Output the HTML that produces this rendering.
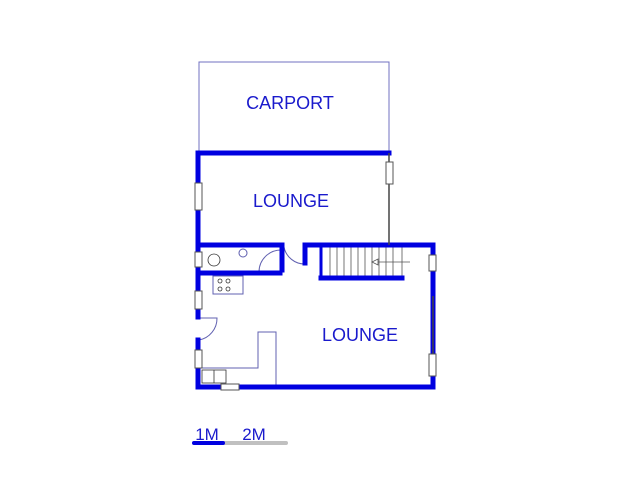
<!DOCTYPE html>
<html><head><style>body{margin:0;background:#fff}svg{display:block}</style></head><body>
<svg width="640" height="480" viewBox="0 0 640 480" xmlns="http://www.w3.org/2000/svg" font-family="Liberation Sans, sans-serif">
<rect width="640" height="480" fill="#fff"/>
<path d="M199 153 V62 H389 V153" fill="none" stroke="#7070c0" stroke-width="1"/>
<g fill="none" stroke="#6060b0" stroke-width="1">
<path d="M200 368 H258 V332 H276 V386"/>
<rect x="213" y="276" width="30" height="18"/>
<circle cx="243" cy="253" r="4"/>
<path d="M259 272 A22 22 0 0 1 281 250"/>
<path d="M284 247 A21 21 0 0 0 305 264"/>
<path d="M199 340 A22 22 0 0 0 217 318 H199"/>
</g>
<g fill="none" stroke="#333" stroke-width="0.8">
<circle cx="220" cy="281" r="2"/><circle cx="228" cy="281" r="2"/><circle cx="220" cy="289" r="2"/><circle cx="228" cy="289" r="2"/>
<circle cx="214" cy="260" r="6"/>
<rect x="202" y="370" width="24" height="13"/>
<line x1="214" y1="370" x2="214" y2="383"/>
</g>
<g stroke="#555" stroke-width="0.8">
<rect x="322" y="247" width="80" height="30" fill="none"/>
<path d="M330 247V277M337 247V277M344 247V277M351 247V277M358 247V277M365 247V277M372 247V277M379 247V277M386 247V277M393 247V277"/>
<path d="M372 262 H410"/>
<path d="M372 262 L378 259 V265 Z" fill="#fff"/>
</g>
<g stroke="#0000e0" stroke-width="5" fill="none" stroke-linecap="square">
<path d="M389 153 H198 V317"/>
<path d="M198 340 V387 H433 V245 H305 V263"/>
<path d="M198 245 H282 V270"/>
<path d="M198 273 H280"/>
<path d="M321 278 H402"/>
</g>
<line x1="321" y1="245" x2="321" y2="278" stroke="#0000e0" stroke-width="3"/>
<g stroke="#444" stroke-width="1.5">
<line x1="389" y1="153" x2="389" y2="245"/>
<line x1="433" y1="296" x2="433" y2="355"/>
</g>
<g fill="#fff" stroke="#555" stroke-width="1">
<rect x="195" y="183" width="7" height="27"/>
<rect x="386" y="162" width="7" height="22"/>
<rect x="195" y="252" width="7" height="15"/>
<rect x="195" y="291" width="7" height="18"/>
<rect x="195" y="350" width="7" height="18"/>
<rect x="429" y="255" width="7" height="16"/>
<rect x="429" y="354" width="7" height="22"/>
<rect x="221" y="384" width="18" height="6"/>
</g>
<g fill="#1a1acc" font-size="18" text-anchor="middle">
<text x="290" y="109">CARPORT</text>
<text x="291" y="207">LOUNGE</text>
<text x="360" y="341">LOUNGE</text>
<text x="207" y="440" font-size="17">1M</text>
<text x="254" y="440" font-size="17">2M</text>
</g>
<line x1="223" y1="443" x2="286" y2="443" stroke="#c0c0c0" stroke-width="4" stroke-linecap="round"/>
<line x1="194" y1="443" x2="223" y2="443" stroke="#0000e0" stroke-width="4" stroke-linecap="round"/>
</svg>
</body></html>
